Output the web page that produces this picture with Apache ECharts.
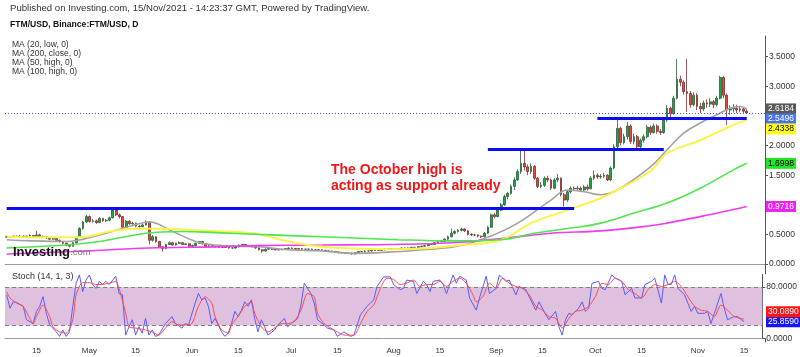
<!DOCTYPE html>
<html><head><meta charset="utf-8">
<script src="https://cdn.jsdelivr.net/npm/echarts@6/dist/echarts.min.js"></script>
<style>html,body{margin:0;padding:0;background:#fff}#c{width:800px;height:357px}</style>
</head><body><div id="c"></div>
<script>
// ---------- DATA ----------
const startDate = '2021-04-06';
const dayCount = 229; // Apr 6 .. Nov 20 (axis extends past last candle)
const monthNames = ['Jan','Feb','Mar','Apr','May','Jun','Jul','Aug','Sep','Oct','Nov','Dec'];
// [open, close, low, high] per day from Apr 6 2021
const ohlc = [
[0.45,0.46,0.44,0.48],[0.46,0.45,0.44,0.47],[0.45,0.47,0.44,0.48],[0.47,0.46,0.45,0.48],[0.46,0.47,0.45,0.49],
[0.47,0.46,0.45,0.48],[0.46,0.47,0.45,0.48],[0.47,0.48,0.46,0.50],[0.48,0.46,0.45,0.49],[0.46,0.49,0.45,0.56],
[0.49,0.46,0.45,0.51],[0.46,0.46,0.44,0.48],[0.46,0.44,0.43,0.47],[0.44,0.42,0.40,0.45],[0.42,0.43,0.41,0.45],
[0.43,0.40,0.38,0.44],[0.40,0.38,0.36,0.41],[0.38,0.35,0.33,0.39],[0.35,0.32,0.30,0.36],[0.32,0.30,0.28,0.33],
[0.30,0.36,0.29,0.37],[0.36,0.45,0.35,0.47],[0.45,0.60,0.44,0.62],[0.60,0.71,0.58,0.73],[0.71,0.80,0.69,0.83],
[0.80,0.72,0.70,0.82],[0.72,0.73,0.70,0.76],[0.73,0.70,0.68,0.75],[0.70,0.77,0.69,0.79],[0.77,0.73,0.71,0.78],
[0.73,0.74,0.71,0.76],[0.74,0.78,0.72,0.80],[0.78,0.91,0.77,0.93],[0.91,0.83,0.81,0.93],[0.83,0.80,0.77,0.85],
[0.80,0.62,0.58,0.81],[0.62,0.72,0.60,0.74],[0.72,0.68,0.66,0.74],[0.68,0.69,0.66,0.71],[0.69,0.64,0.62,0.70],
[0.64,0.63,0.61,0.66],[0.63,0.66,0.62,0.68],[0.66,0.71,0.65,0.74],[0.71,0.40,0.33,0.72],[0.40,0.46,0.38,0.49],
[0.46,0.38,0.36,0.47],[0.38,0.29,0.27,0.39],[0.29,0.26,0.21,0.30],[0.26,0.33,0.25,0.34],[0.33,0.36,0.32,0.38],
[0.36,0.32,0.31,0.37],[0.32,0.35,0.31,0.36],[0.35,0.36,0.34,0.38],[0.36,0.33,0.32,0.37],[0.33,0.34,0.32,0.35],
[0.34,0.30,0.29,0.35],[0.30,0.31,0.29,0.33],[0.31,0.35,0.30,0.36],[0.35,0.38,0.34,0.39],[0.38,0.34,0.33,0.39],
[0.34,0.30,0.29,0.35],[0.30,0.31,0.29,0.32],[0.31,0.30,0.29,0.32],[0.30,0.29,0.28,0.31],[0.29,0.28,0.27,0.30],
[0.28,0.29,0.27,0.30],[0.29,0.28,0.27,0.30],[0.28,0.27,0.26,0.29],[0.27,0.27,0.26,0.28],[0.27,0.29,0.26,0.30],
[0.29,0.32,0.28,0.33],[0.32,0.33,0.31,0.34],[0.33,0.31,0.30,0.34],[0.31,0.30,0.29,0.32],[0.30,0.29,0.28,0.31],
[0.29,0.27,0.26,0.30],[0.27,0.24,0.23,0.28],[0.24,0.22,0.19,0.25],[0.22,0.25,0.21,0.26],[0.25,0.26,0.24,0.27],
[0.26,0.25,0.24,0.27],[0.25,0.24,0.23,0.26],[0.24,0.24,0.23,0.25],[0.24,0.25,0.23,0.26],[0.25,0.26,0.24,0.27],
[0.26,0.27,0.25,0.28],[0.27,0.26,0.25,0.28],[0.26,0.25,0.24,0.27],[0.25,0.26,0.24,0.27],[0.26,0.25,0.24,0.27],
[0.25,0.25,0.24,0.26],[0.25,0.25,0.24,0.26],[0.25,0.24,0.23,0.26],[0.24,0.24,0.23,0.25],[0.24,0.24,0.23,0.25],
[0.24,0.23,0.22,0.25],[0.23,0.22,0.21,0.24],[0.22,0.22,0.21,0.23],[0.22,0.21,0.20,0.23],[0.21,0.20,0.19,0.22],
[0.20,0.19,0.18,0.21],[0.19,0.19,0.18,0.20],[0.19,0.18,0.17,0.20],[0.18,0.18,0.17,0.19],[0.18,0.17,0.16,0.19],
[0.17,0.19,0.16,0.20],[0.19,0.21,0.18,0.22],[0.21,0.21,0.20,0.22],[0.21,0.22,0.20,0.23],[0.22,0.22,0.21,0.23],
[0.22,0.23,0.21,0.24],[0.23,0.24,0.22,0.25],[0.24,0.23,0.22,0.25],[0.23,0.24,0.22,0.25],[0.24,0.25,0.23,0.26],
[0.25,0.25,0.24,0.26],[0.25,0.26,0.24,0.27],[0.26,0.26,0.25,0.27],[0.26,0.26,0.25,0.27],[0.26,0.27,0.25,0.28],
[0.27,0.26,0.25,0.28],[0.26,0.27,0.25,0.28],[0.27,0.28,0.26,0.29],[0.28,0.28,0.27,0.29],[0.28,0.29,0.27,0.30],
[0.29,0.30,0.28,0.31],[0.30,0.31,0.29,0.32],[0.31,0.33,0.30,0.34],[0.33,0.33,0.32,0.35],[0.33,0.36,0.32,0.37],
[0.36,0.38,0.35,0.39],[0.38,0.38,0.36,0.40],[0.38,0.42,0.37,0.43],[0.42,0.46,0.41,0.48],[0.46,0.52,0.45,0.60],
[0.52,0.55,0.50,0.57],[0.55,0.57,0.53,0.59],[0.57,0.59,0.55,0.61],[0.59,0.56,0.54,0.60],[0.56,0.50,0.48,0.57],
[0.50,0.49,0.47,0.52],[0.49,0.49,0.47,0.51],[0.49,0.47,0.45,0.50],[0.47,0.46,0.44,0.48],[0.46,0.52,0.45,0.54],
[0.52,0.62,0.51,0.64],[0.62,0.83,0.61,0.85],[0.83,0.80,0.77,0.86],[0.80,0.91,0.79,0.93],[0.91,1.00,0.89,1.03],
[1.00,1.14,0.98,1.17],[1.14,1.19,1.09,1.22],[1.19,1.31,1.17,1.34],[1.31,1.42,1.25,1.46],[1.42,1.56,1.40,1.60],
[1.56,1.70,1.52,1.93],[1.70,1.64,1.58,1.94],[1.64,1.56,1.50,1.68],[1.56,1.65,1.52,1.70],[1.65,1.45,1.42,1.67],
[1.45,1.31,1.28,1.47],[1.31,1.33,1.28,1.38],[1.33,1.45,1.30,1.48],[1.45,1.42,1.38,1.49],[1.42,1.28,1.25,1.44],
[1.28,1.42,1.26,1.45],[1.42,1.45,1.38,1.52],[1.45,1.17,1.14,1.46],[1.17,1.08,0.97,1.20],[1.08,1.22,1.05,1.25],
[1.22,1.28,1.19,1.31],[1.28,1.27,1.23,1.31],[1.27,1.28,1.24,1.32],[1.28,1.25,1.22,1.31],[1.25,1.30,1.23,1.33],
[1.30,1.27,1.24,1.34],[1.27,1.45,1.26,1.48],[1.45,1.50,1.42,1.58],[1.50,1.47,1.44,1.53],[1.47,1.48,1.44,1.52],
[1.48,1.50,1.45,1.54],[1.50,1.42,1.40,1.52],[1.42,1.62,1.40,1.65],[1.62,1.98,1.60,2.02],[1.98,2.29,1.95,2.46],
[2.29,2.05,2.00,2.32],[2.05,2.15,2.02,2.20],[2.15,2.33,2.10,2.40],[2.33,2.07,2.03,2.36],[2.07,2.15,2.02,2.20],
[2.15,1.98,1.94,2.18],[1.98,2.09,1.96,2.12],[2.09,2.15,2.05,2.19],[2.15,2.31,2.12,2.35],[2.31,2.22,2.18,2.34],
[2.22,2.33,2.20,2.37],[2.33,2.24,2.20,2.36],[2.24,2.22,2.18,2.28],[2.22,2.43,2.20,2.47],[2.43,2.63,2.40,2.68],
[2.63,2.54,2.48,2.66],[2.54,2.80,2.52,2.84],[2.80,3.12,2.78,3.46],[3.12,3.07,3.00,3.18],[3.07,2.91,2.86,3.10],
[2.91,2.88,2.57,3.46],[2.88,2.69,2.64,2.92],[2.69,2.85,2.66,2.90],[2.85,2.66,2.60,2.88],[2.66,2.62,2.55,2.72],
[2.62,2.72,2.58,2.76],[2.72,2.70,2.64,2.78],[2.70,2.74,2.65,2.80],[2.74,2.69,2.63,2.77],[2.69,2.80,2.66,2.84],
[2.80,3.15,2.78,3.18],[3.15,2.85,2.80,3.17],[2.85,2.60,2.35,2.88],[2.60,2.62,2.52,2.68],[2.62,2.63,2.56,2.70],
[2.63,2.60,2.55,2.69],[2.60,2.62,2.56,2.67],[2.62,2.58,2.55,2.65],[2.58,2.5496,2.53,2.62]
];
// moving averages: [dayIndex, value]
const ma20low = [[0,0.41],[8,0.39],[18,0.38],[28,0.49],[33,0.57],[38,0.65],[43,0.71],[50,0.55],[57,0.38],[63,0.32],[70,0.30],[76,0.29],[85,0.24],[95,0.22],[105,0.18],[115,0.20],[125,0.24],[135,0.29],[144,0.43],[154,0.69],[164,1.08],[169,1.25],[174,1.22],[179,1.17],[184,1.25],[194,1.64],[199,1.93],[204,2.21],[209,2.38],[214,2.52],[218,2.63],[221,2.66],[223,2.6184]];
const ma200close = [[0,0.17],[20,0.21],[43,0.27],[63,0.29],[75,0.31],[95,0.32],[115,0.33],[134,0.36],[149,0.43],[164,0.52],[179,0.56],[194,0.645],[199,0.69],[209,0.80],[219,0.92],[223,0.9716]];
const ma50high = [[0,0.46],[10,0.45],[18,0.45],[25,0.47],[31,0.55],[40,0.60],[50,0.59],[60,0.56],[70,0.54],[76,0.50],[85,0.38],[95,0.29],[105,0.26],[115,0.25],[125,0.26],[135,0.31],[149,0.41],[158,0.69],[169,0.91],[179,1.11],[184,1.25],[194,1.57],[199,1.87],[209,2.09],[219,2.35],[223,2.4338]];
const ma100high = [[0,0.27],[18,0.32],[28,0.38],[42,0.52],[53,0.55],[63,0.53],[76,0.50],[95,0.46],[118,0.41],[134,0.39],[149,0.41],[159,0.52],[169,0.60],[179,0.69],[189,0.86],[199,1.03],[209,1.28],[219,1.59],[223,1.6998]];
// stochastic (14,1,3)
const stochK = [[0,68],[1,47],[2,57],[3,56],[5,50],[6,29],[8,23],[9,42],[10,50],[11,65],[12,39],[13,21],[15,10],[16,3],[17,13],[18,3],[19,10],[20,50],[21,86],[22,99],[23,73],[24,91],[25,99],[26,84],[27,78],[28,89],[29,84],[30,89],[31,84],[33,97],[34,70],[35,68],[36,5],[37,18],[38,29],[39,5],[40,18],[41,8],[42,31],[43,5],[44,13],[45,3],[46,5],[48,23],[50,34],[51,23],[53,16],[54,23],[55,21],[57,55],[58,70],[59,60],[60,63],[61,50],[62,23],[63,31],[65,10],[66,3],[67,8],[68,23],[69,42],[70,34],[71,44],[72,57],[73,50],[74,60],[75,31],[76,10],[77,29],[78,18],[79,5],[81,13],[82,21],[84,31],[85,18],[86,23],[88,31],[89,52],[90,86],[92,70],[93,55],[94,29],[96,21],[97,16],[99,13],[100,3],[102,10],[104,3],[105,5],[107,37],[109,50],[111,60],[112,81],[114,96],[116,96],[117,84],[119,76],[120,78],[121,91],[123,89],[124,70],[126,89],[127,84],[128,73],[129,89],[131,91],[132,84],[133,70],[135,99],[136,86],[137,97],[139,91],[140,63],[142,44],[143,63],[145,97],[146,70],[148,78],[149,99],[151,89],[152,91],[154,68],[155,81],[157,76],[158,65],[160,44],[161,57],[163,37],[164,29],[166,42],[167,18],[168,5],[169,29],[170,39],[171,37],[173,47],[174,57],[175,42],[176,47],[177,86],[179,89],[180,78],[181,76],[183,99],[184,94],[186,89],[187,68],[189,78],[190,63],[192,63],[193,84],[195,89],[196,94],[198,55],[199,99],[200,84],[201,84],[202,99],[203,78],[205,68],[206,55],[207,42],[208,50],[209,39],[211,39],[212,42],[213,23],[214,39],[216,70],[217,47],[218,29],[220,34],[221,34],[223,25.859]];
const stochD = [[0,73],[1,63],[3,55],[5,50],[7,31],[8,23],[9,34],[11,52],[13,34],[14,18],[16,10],[18,8],[20,29],[21,68],[23,87],[25,87],[27,84],[28,84],[31,86],[33,89],[34,78],[36,39],[37,18],[39,16],[42,13],[44,10],[46,5],[48,16],[50,26],[52,21],[54,21],[56,23],[58,50],[60,65],[62,55],[63,34],[65,13],[67,8],[68,21],[70,34],[72,50],[74,57],[75,39],[77,18],[79,10],[81,16],[83,23],[85,23],[87,26],[89,44],[91,70],[93,65],[94,39],[96,23],[98,16],[100,10],[102,5],[105,5],[107,23],[109,42],[111,52],[113,78],[115,94],[117,92],[119,84],[121,86],[123,91],[125,81],[127,84],[129,84],[131,89],[133,81],[135,89],[137,94],[139,86],[141,68],[142,57],[144,65],[146,86],[148,78],[150,94],[152,86],[154,81],[156,78],[158,68],[160,50],[162,44],[164,34],[166,31],[168,16],[170,31],[172,42],[174,44],[176,50],[178,65],[180,86],[182,84],[184,94],[186,89],[188,76],[190,70],[192,63],[194,76],[196,84],[198,81],[200,84],[202,89],[204,81],[206,65],[208,50],[210,44],[212,42],[214,34],[216,52],[218,44],[220,34],[223,30.089]];
// drawn support lines: [price, fromDay, toDay]
const supportLines = [[0.946,0,171],[1.943,145,198],[2.466,178,223]];
const lastPrice = 2.5496;
const priceTicks = {min:0, max:3.85, interval:0.5, hidden:[1.0,2.5]};
const stochLevels = [20,80];
const legendLines = ['MA (20, low, 0)','MA (200, close, 0)','MA (50, high, 0)','MA (100, high, 0)'];
const headerText = 'Published on Investing.com, 15/Nov/2021 - 14:23:37 GMT, Powered by TradingView.';
const symbolText = 'FTM/USD, Binance:FTM/USD, D';
const noteText = 'The October high is\nacting as support already';
const stochTitle = 'Stoch (14, 1, 3)';

// ---------- BUILD ----------
const dates = [];
{ const d0 = new Date(startDate + 'T00:00:00Z');
  for (let i = 0; i < dayCount; i++) { const d = new Date(d0.getTime() + i*86400000); dates.push(d.toISOString().slice(0,10)); } }

const FONT = 'Liberation Sans, Arial, sans-serif';
const chart = echarts.init(document.getElementById('c'), null, {renderer:'canvas'});
const G = {left:5, right:35};
const option = {
  animation:false,
  backgroundColor:'#fff',
  grid:[
    {left:G.left, right:G.right, top:36, bottom:93},
    {left:G.left, right:G.right, top:274.3, bottom:18.7}
  ],
  xAxis:[
    {type:'category', gridIndex:0, data:dates, boundaryGap:true, offset:3,
     axisLine:{show:true, lineStyle:{color:'#999', width:1}}, axisTick:{show:false}, axisLabel:{show:false}, splitLine:{show:false}},
    {type:'category', gridIndex:1, data:dates, boundaryGap:true, offset:4,
     axisLine:{show:true, lineStyle:{color:'#999', width:1}}, axisTick:{show:false},
     axisLabel:{color:'#333', fontSize:8, fontFamily:FONT, margin:4,
       interval:(i, v) => { const dd = +v.slice(8); return dd === 1 || dd === 15; },
       formatter:(v) => { const dd = +v.slice(8); return dd === 1 ? monthNames[+v.slice(5,7)-1] : String(dd); }},
     splitLine:{show:false}}
  ],
  yAxis:[
    {type:'value', gridIndex:0, position:'right', min:priceTicks.min, max:priceTicks.max, interval:priceTicks.interval,
     axisLine:{show:true, lineStyle:{color:'#555'}}, axisTick:{show:true, length:3, lineStyle:{color:'#555'}},
     splitLine:{show:false},
     axisLabel:{showMaxLabel:false, color:'#333', fontSize:8.5, fontFamily:FONT, margin:4,
       formatter:(v) => priceTicks.hidden.some(h => Math.abs(h - v) < 1e-9) ? '' : v.toFixed(4)}},
    {type:'value', gridIndex:1, position:'right', min:0, max:100, interval:80,
     axisLine:{show:true, lineStyle:{color:'#555'}}, axisTick:{show:true, length:3, lineStyle:{color:'#555'}},
     splitLine:{show:false},
     axisLabel:{showMaxLabel:false, color:'#333', fontSize:8.5, fontFamily:FONT, margin:4, formatter:(v) => v.toFixed(4)}}
  ],
  series:[
    {type:'candlestick', name:'FTM', xAxisIndex:0, yAxisIndex:0, data:ohlc, barWidth:'68%', z:3,
     itemStyle:{color:'#1fa64a', color0:'#e94a40', borderColor:'#2b5e36', borderColor0:'#7e2d2d', borderWidth:0.8},
     markLine:{silent:true, symbol:['none','none'], animation:false, label:{show:false},
       data:[
         ...supportLines.map(s => [{coord:[s[1], s[0]], lineStyle:{color:'#0c0cf2', width:3, type:'solid'}}, {coord:[s[2], s[0]]}]),
         {yAxis:lastPrice, lineStyle:{color:'#3d5ae0', width:1, type:[1,2]}}
       ]}},
    {type:'line', name:'MA20', xAxisIndex:0, yAxisIndex:0, data:ma20low, smooth:0.4, showSymbol:false, z:4, lineStyle:{color:'#a2a2a2', width:1.6}},
    {type:'line', name:'MA200', xAxisIndex:0, yAxisIndex:0, data:ma200close, smooth:0.4, showSymbol:false, z:4, lineStyle:{color:'#ee3cee', width:1.6}},
    {type:'line', name:'MA50', xAxisIndex:0, yAxisIndex:0, data:ma50high, smooth:0.4, showSymbol:false, z:4, lineStyle:{color:'#fbf24a', width:2}},
    {type:'line', name:'MA100', xAxisIndex:0, yAxisIndex:0, data:ma100high, smooth:0.4, showSymbol:false, z:4, lineStyle:{color:'#4de64d', width:1.6}},
    {type:'line', name:'%K', xAxisIndex:1, yAxisIndex:1, data:stochK, showSymbol:false, z:4, lineStyle:{color:'#5b5bff', width:1},
     markArea:{silent:true, itemStyle:{color:'#dfc0df'}, data:[[{yAxis:stochLevels[0]},{yAxis:stochLevels[1]}]]},
     markLine:{silent:true, symbol:['none','none'], label:{show:false}, lineStyle:{color:'#808080', type:[4,3], width:1},
       data: stochLevels.map(v => ({yAxis:v}))}},
    {type:'line', name:'%D', xAxisIndex:1, yAxisIndex:1, data:stochD, smooth:0.25, showSymbol:false, z:5, lineStyle:{color:'#ff4a4a', width:1}}
  ]
};
chart.setOption(option);

// ---------- overlay texts and value tags ----------
function tag(text, y, bg, fg) {
  return {type:'text', z:100, x:766, y:y,
    style:{text:text, fill:fg, backgroundColor:bg, padding:[1,2,1,2], font:'8.5px ' + FONT, verticalAlign:'middle', align:'left'}};
}
const priceTags = [
  {v:2.6184, bg:'#5a5a5a', fg:'#fff'},
  {v:lastPrice, bg:'#4a74ee', fg:'#fff'},
  {v:2.4338, bg:'#ffff1a', fg:'#000'},
  {v:1.6998, bg:'#22e622', fg:'#000'},
  {v:0.9716, bg:'#ee22ee', fg:'#fff'}
].sort((a,b) => b.v - a.v);
let prevY = -1e9; const gfx = [];
priceTags.forEach(t => {
  let y = chart.convertToPixel({yAxisIndex:0}, t.v);
  y = Math.max(y, prevY + 10); prevY = y;
  gfx.push(tag(t.v.toFixed(4), y, t.bg, t.fg));
});
const stochTags = [
  {v:25.859, bg:'#1414ff', fg:'#fff'},
  {v:30.089, bg:'#ff1414', fg:'#fff'}
];
let lowY = 1e9;
stochTags.forEach(t => {
  let y = chart.convertToPixel({yAxisIndex:1}, t.v);
  y = Math.min(y, lowY - 10); lowY = y;
  gfx.push(tag(t.v.toFixed(4), y, t.bg, t.fg));
});
// axis line continuation between panels
const yTopStoch = chart.convertToPixel({yAxisIndex:1}, 100);
const yBotStoch = chart.convertToPixel({yAxisIndex:1}, 0);
const yZero = chart.convertToPixel({yAxisIndex:0}, 0);
gfx.push({type:'line', z:50, shape:{x1:765.5, y1:yZero, x2:765.5, y2:yTopStoch}, style:{stroke:'#555', lineWidth:1}});
gfx.push({type:'line', z:50, shape:{x1:765.5, y1:yBotStoch, x2:765.5, y2:yBotStoch+4}, style:{stroke:'#555', lineWidth:1}});
// header
gfx.push({type:'text', x:10, y:8, style:{text:headerText, fill:'#333', font:'9.6px ' + FONT, verticalAlign:'middle'}});
gfx.push({type:'text', x:10, y:25, style:{text:symbolText, fill:'#111', font:'bold 8.6px ' + FONT, verticalAlign:'middle'}});
legendLines.forEach((s, i) => gfx.push({type:'text', x:12, y:45 + i*9, style:{text:s, fill:'#333', font:'8.5px ' + FONT, verticalAlign:'middle'}}));
// annotation
gfx.push({type:'text', x:331, y:162, z:60, style:{text:noteText, fill:'#f01616', font:'bold 14px ' + FONT, lineHeight:16, verticalAlign:'top'}});
// logo
gfx.push({type:'text', x:13, y:252, z:60, style:{
  text:'{a|Investing}{b|.com}', verticalAlign:'middle',
  rich:{a:{font:'bold 13px ' + FONT, fill:'#111'}, b:{font:'9.5px ' + FONT, fill:'#777'}}}});
gfx.push({type:'text', x:12, y:277, z:60, style:{text:stochTitle, fill:'#333', font:'9px ' + FONT, verticalAlign:'middle'}});
chart.setOption({graphic:gfx});
</script></body></html>
